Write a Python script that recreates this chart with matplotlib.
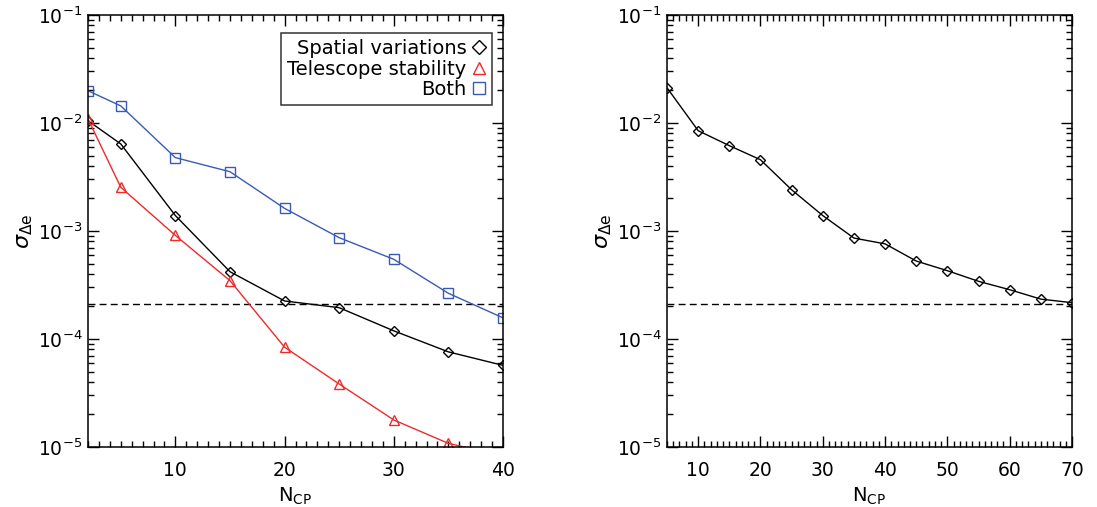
import matplotlib
matplotlib.use("Agg")
import matplotlib.pyplot as plt
from matplotlib.lines import Line2D
from matplotlib.ticker import LogLocator, MultipleLocator, NullFormatter

# ---- data ----
ncp_left = [2, 5, 10, 15, 20, 25, 30, 35, 40]
spatial = [1.05e-2, 6.4e-3, 1.39e-3, 4.2e-4, 2.25e-4, 1.95e-4, 1.19e-4, 7.6e-5, 5.7e-5]
telescope = [1.09e-2, 2.54e-3, 9.1e-4, 3.47e-4, 8.4e-5, 3.83e-5, 1.78e-5, 1.08e-5, 8.3e-6]
both = [1.99e-2, 1.44e-2, 4.78e-3, 3.54e-3, 1.62e-3, 8.67e-4, 5.47e-4, 2.65e-4, 1.57e-4]

ncp_right = [5, 10, 15, 20, 25, 30, 35, 40, 45, 50, 55, 60, 65, 70]
spatial_right = [2.12e-2, 8.49e-3, 6.17e-3, 4.57e-3, 2.41e-3, 1.39e-3, 8.6e-4,
                 7.6e-4, 5.27e-4, 4.29e-4, 3.42e-4, 2.86e-4, 2.34e-4, 2.17e-4]

threshold = 2.1e-4
legend_labels = ["Spatial variations", "Telescope stability", "Both"]

BLUE = "#3a5bb5"
RED = "#ee2a2a"

plt.rcParams["font.family"] = ["DejaVu Sans"]
plt.rcParams["mathtext.default"] = "regular"

fig = plt.figure(figsize=(10.97, 5.07), dpi=100)
W, H = 1097, 507
axL = fig.add_axes([88 / W, (H - 447) / H, 415 / W, 432 / H])
axR = fig.add_axes([667 / W, (H - 447) / H, 405 / W, 432 / H])


def style(ax, xlim):
    ax.set_yscale("log")
    ax.set_ylim(1e-5, 1e-1)
    ax.set_xlim(*xlim)
    ax.yaxis.set_major_locator(LogLocator(base=10, numticks=10))
    ax.yaxis.set_minor_locator(LogLocator(base=10, subs=range(2, 10), numticks=20))
    ax.yaxis.set_minor_formatter(NullFormatter())
    ax.xaxis.set_major_locator(MultipleLocator(10))
    ax.xaxis.set_minor_locator(MultipleLocator(1))
    ax.tick_params(which="both", direction="in", top=True, right=True,
                   labelsize=13.5, colors="black", width=1)
    ax.tick_params(which="major", length=8)
    ax.tick_params(which="minor", length=4)
    ax.tick_params(axis="x", which="major", pad=10)
    ax.tick_params(axis="y", which="major", pad=4)
    for s in ax.spines.values():
        s.set_linewidth(1.1)
    ax.set_xlabel(r"N$_{\rm CP}$", fontsize=14, labelpad=4)
    ax.set_ylabel(r"$\mathit{\sigma}_{\Delta \rm e}$", fontsize=16, labelpad=2)
    ax.axhline(threshold, color="black", lw=1, ls=(0, (5, 3)))


style(axL, (2, 40))
style(axR, (5, 70))

mk = dict(markerfacecolor="none", lw=1, clip_on=True)
axL.plot(ncp_left, spatial, color="black", marker="D", ms=5.5, mew=1, **mk)
axL.plot(ncp_left, telescope, color=RED, marker="^", ms=7, mew=1, **mk)
axL.plot(ncp_left, both, color=BLUE, marker="s", ms=7, mew=1, **mk)

axR.plot(ncp_right, spatial_right, color="black", marker="D", ms=5.5, mew=1, **mk)

handles = [
    Line2D([], [], ls="none", marker="D", color="black", markerfacecolor="none", ms=7),
    Line2D([], [], ls="none", marker="^", color=RED, markerfacecolor="none", ms=9),
    Line2D([], [], ls="none", marker="s", color=BLUE, markerfacecolor="none", ms=9),
]
leg = axL.legend(handles, legend_labels, loc="upper right",
                 bbox_to_anchor=(0.9728, 0.9576), borderaxespad=0,
                 markerfirst=False, fontsize=14, frameon=True, fancybox=False,
                 handlelength=0.7, handletextpad=0.3, labelspacing=0.07,
                 borderpad=0.3)
leg.get_frame().set_edgecolor("black")
leg.get_frame().set_linewidth(1.1)

fig.savefig("out.png", dpi=100)
